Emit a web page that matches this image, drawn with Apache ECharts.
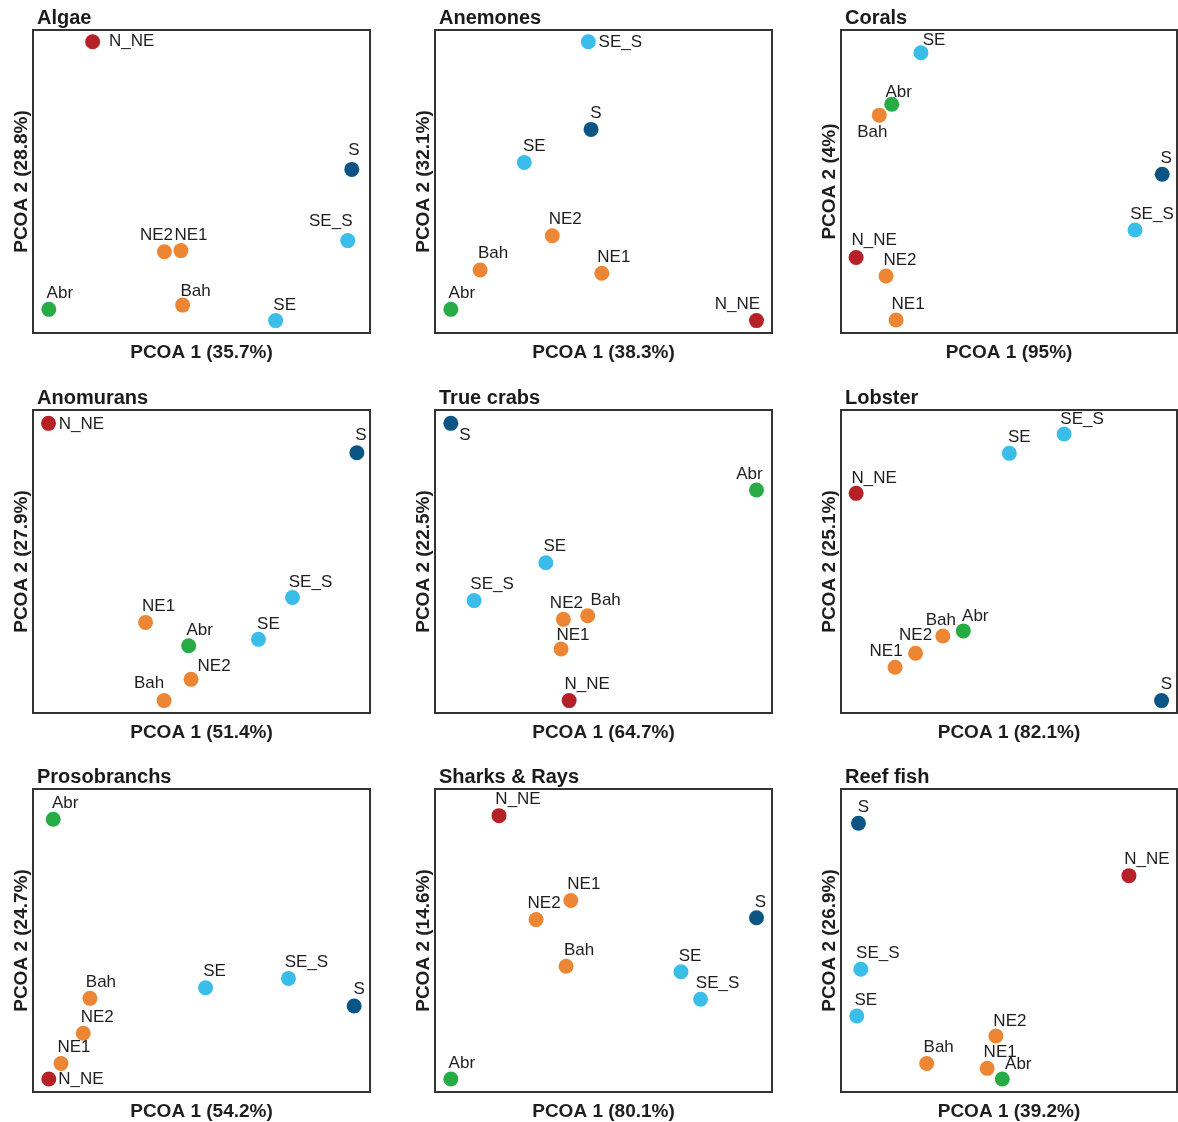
<!DOCTYPE html>
<html>
<head>
<meta charset="utf-8">
<script src="https://cdn.jsdelivr.net/npm/echarts@6/dist/echarts.min.js"></script>
<style>
  html, body { margin: 0; padding: 0; background: #fff; }
  #chart { width: 1178px; height: 1122px; }
</style>
</head>
<body>
<div id="chart"></div>
<script>
// Sampling sites, in the order every coordinate array below follows
const sites = ["N_NE", "NE1", "NE2", "Bah", "Abr", "SE", "SE_S", "S"];

// Panel titles and explained variance for each ordination axis
const groups = ["Algae", "Anemones", "Corals", "Anomurans", "True crabs", "Lobster", "Prosobranchs", "Sharks & Rays", "Reef fish"];
const pcoa1Pct = ["35.7%", "38.3%", "95%", "51.4%", "64.7%", "82.1%", "54.2%", "80.1%", "39.2%"];
const pcoa2Pct = ["28.8%", "32.1%", "4%", "27.9%", "22.5%", "25.1%", "24.7%", "14.6%", "26.9%"];

// Site scores (rescaled to 0-100 within each panel), order as in `sites`
const algaeX        = [17.7, 43.9, 39.0, 44.4,  4.7, 72.0, 93.4, 94.6];
const algaeY        = [96.1, 27.2, 26.8,  9.2,  7.8,  4.1, 30.5, 54.0];
const anemonesX     = [95.4, 49.5, 34.8, 13.4,  4.7, 26.5, 45.5, 46.3];
const anemonesY     = [ 4.1, 19.7, 32.1, 20.8,  7.8, 56.3, 96.1, 67.2];
const coralsX       = [ 4.5, 16.4, 13.4, 11.4, 15.1, 23.8, 87.5, 95.6];
const coralsY       = [24.9,  4.3, 18.8, 71.9, 75.5, 92.5, 34.0, 52.4];
const anomuransX    = [ 4.6, 33.4, 46.9, 38.9, 46.2, 66.9, 77.0, 96.1];
const anomuransY    = [95.6, 29.9, 11.1,  4.1, 22.2, 24.3, 38.1, 85.9];
const trueCrabsX    = [39.8, 37.4, 38.1, 45.3, 95.4, 32.9, 11.6,  4.7];
const trueCrabsY    = [ 4.1, 21.1, 30.9, 32.1, 73.6, 49.6, 37.1, 95.6];
const lobsterX      = [ 4.5, 16.1, 22.2, 30.3, 36.4, 50.1, 66.4, 95.4];
const lobsterY      = [72.5, 15.1, 19.7, 25.4, 27.1, 85.7, 92.1,  4.1];
const prosobranchsX = [ 4.7,  8.3, 14.9, 16.9,  6.0, 51.2, 75.8, 95.3];
const prosobranchsY = [ 4.3,  9.4, 19.4, 30.9, 90.0, 34.4, 37.5, 28.4];
const sharksX       = [19.0, 40.3, 30.0, 38.9,  4.7, 73.0, 78.8, 95.4];
const sharksY       = [91.2, 63.2, 56.9, 41.5,  4.3, 39.7, 30.6, 57.5];
const reefFishX     = [85.7, 43.5, 46.1, 25.5, 48.0,  4.7,  5.9,  5.2];
const reefFishY     = [71.4,  7.8, 18.5,  9.4,  4.3, 25.1, 40.5, 88.7];

const panelX = [algaeX, anemonesX, coralsX, anomuransX, trueCrabsX, lobsterX, prosobranchsX, sharksX, reefFishX];
const panelY = [algaeY, anemonesY, coralsY, anomuransY, trueCrabsY, lobsterY, prosobranchsY, sharksY, reefFishY];

// ---- styling ----
const siteColors = {
  N_NE: "#b52126", NE1: "#ec8634", NE2: "#ec8634", Bah: "#ec8634",
  Abr: "#27ab45", SE: "#3bbde9", SE_S: "#3bbde9", S: "#0b5585"
};

// Label offsets in px (label centre relative to point centre), order as in `sites`
const labelNudges = [
  [[39,-1],[10,-15],[-8,-16],[13,-14],[11,-16],[9,-15],[-17,-19],[2,-19]],
  [[-19,-16],[12,-16],[13,-16],[13,-17],[11,-16],[10,-16],[32,0],[5,-16]],
  [[18,-17],[12,-16],[14,-16],[-7,17],[7,-12],[13,-12],[17,-16],[4,-16]],
  [[33,1],[13,-16],[23,-13],[-15,-17],[11,-15],[10,-15],[18,-15],[4,-17]],
  [[18,-16],[12,-14],[3,-16],[18,-15],[-7,-16],[9,-16],[18,-16],[14,12]],
  [[18,-15],[-9,-16],[0,-18],[-2,-16],[12,-15],[10,-16],[18,-15],[5,-16]],
  [[32,0],[13,-16],[14,-16],[11,-16],[12,-16],[9,-16],[18,-16],[5,-17]],
  [[19,-16],[13,-16],[8,-16],[13,-16],[11,-16],[9,-15],[17,-16],[4,-15]],
  [[18,-16],[13,-16],[14,-15],[12,-16],[16,-15],[9,-16],[17,-16],[5,-16]]
];

const colLeft = [33, 435, 841];
const colWidth = [337, 337, 336];
const rowTop = [30, 410, 789];
const rowHeight = [303, 303, 304];
const titleTop = [3, 383, 762];
const font = "'Liberation Sans', Arial, sans-serif";

const option = {
  backgroundColor: "#ffffff",
  animation: false,
  title: [], grid: [], xAxis: [], yAxis: [], series: []
};

groups.forEach((name, i) => {
  const r = Math.floor(i / 3), c = i % 3;
  option.title.push({
    text: name, left: colLeft[c] - 1, top: titleTop[r],
    textStyle: { fontFamily: font, fontSize: 20, fontWeight: "bold", color: "#1a1a1a" }
  });
  option.grid.push({
    left: colLeft[c], top: rowTop[r], width: colWidth[c], height: rowHeight[r],
    show: true, borderColor: "#333333", borderWidth: 2, backgroundColor: "#fff"
  });
  const axisCommon = {
    gridIndex: i, min: 0, max: 100, nameLocation: "middle",
    axisLine: { show: false }, axisTick: { show: false },
    axisLabel: { show: false }, splitLine: { show: false },
    nameTextStyle: { fontFamily: font, fontSize: 19, fontWeight: "bold", color: "#1e1e1e" }
  };
  option.xAxis.push(Object.assign({}, axisCommon, { name: "PCOA 1 (" + pcoa1Pct[i] + ")", nameGap: 10 }));
  option.yAxis.push(Object.assign({}, axisCommon, { name: "PCOA 2 (" + pcoa2Pct[i] + ")", nameGap: 2 }));

  const data = sites.map((s, k) => ({
    name: s,
    value: [panelX[i][k], panelY[i][k]],
    itemStyle: { color: siteColors[s], opacity: 1 },
    label: { offset: labelNudges[i][k] }
  }));
  option.series.push({
    type: "scatter", xAxisIndex: i, yAxisIndex: i,
    symbol: "circle", symbolSize: 15,
    data: data,
    itemStyle: { opacity: 1 },
    label: {
      show: true, position: "inside", formatter: "{b}",
      align: "center", verticalAlign: "middle",
      fontFamily: font, fontSize: 17, color: "#1e1e1e", opacity: 1
    },
    emphasis: { disabled: true }
  });
});

const chart = echarts.init(document.getElementById("chart"), null, { renderer: "canvas" });
chart.setOption(option);
</script>
</body>
</html>
